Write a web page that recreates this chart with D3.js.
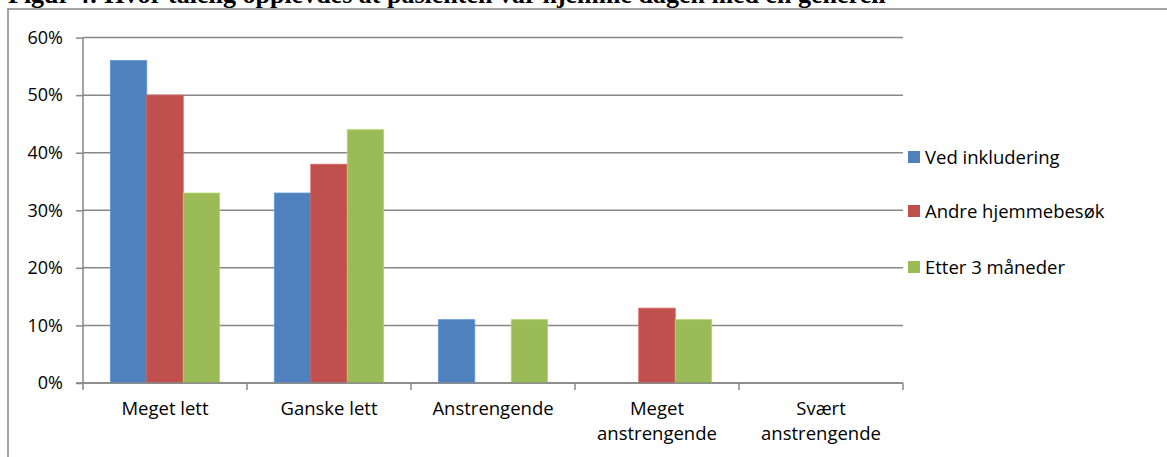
<!DOCTYPE html>
<html>
<head>
<meta charset="utf-8">
<script src="https://cdn.jsdelivr.net/npm/d3@7"></script>
<style>
  body { margin: 0; background: #fff; overflow: hidden; }
  text { font-family: "Open Sans", Lato, sans-serif; fill: #000; }
</style>
</head>
<body>
<script>
'use strict';

// chart data
const categories = ["Meget lett", "Ganske lett", "Anstrengende", "Meget anstrengende", "Svært anstrengende"];
const categoryLines = [["Meget lett"], ["Ganske lett"], ["Anstrengende"], ["Meget", "anstrengende"], ["Svært", "anstrengende"]];
const seriesNames = ["Ved inkludering", "Andre hjemmebesøk", "Etter 3 måneder"];
const vedInkludering = [0.56, 0.33, 0.11, 0, 0];
const andreHjemmebesok = [0.50, 0.38, 0, 0.13, 0];
const etter3Maneder = [0.33, 0.44, 0.11, 0.11, 0];
const yTicks = [0, 0.1, 0.2, 0.3, 0.4, 0.5, 0.6];
const colors = ["#4F81BD", "#C0504D", "#9BBB59"];

const allSeries = [vedInkludering, andreHjemmebesok, etter3Maneder];

const width = 1167, height = 457;
const fontSize = '18.5px';
const svg = d3.select('body').append('svg')
  .attr('width', width)
  .attr('height', height);

// caption from the document, cut off at the top
svg.append('text')
  .attr('x', 8)
  .attr('y', 3)
  .style('font-family', '"Liberation Serif", serif')
  .style('font-weight', 'bold')
  .style('font-size', '26px')
  .text('Figur 4: Hvor tålelig opplevdes at pasienten var hjemme dagen med en generell');

// chart frame
svg.append('path')
  .attr('d', 'M8,' + height + 'V9H' + width)
  .attr('fill', 'none')
  .attr('stroke', '#878787')
  .attr('stroke-width', 1.5);

const plot = { left: 83, right: 903, top: 37.6, bottom: 383 };

const x = d3.scaleBand()
  .domain(categories)
  .range([plot.left, plot.right])
  .paddingInner(1 / 3)
  .paddingOuter(1 / 6);

const xSub = d3.scaleBand()
  .domain(seriesNames)
  .range([0, x.bandwidth()]);

const y = d3.scaleLinear()
  .domain([0, 0.6])
  .range([plot.bottom, plot.top]);

// gridlines
svg.append('g')
  .selectAll('line')
  .data(yTicks)
  .enter()
  .append('line')
    .attr('x1', plot.left)
    .attr('x2', plot.right)
    .attr('y1', d => y(d))
    .attr('y2', d => y(d))
    .attr('stroke', '#878787')
    .attr('stroke-width', 1.5);

// y axis
const yAxis = d3.axisLeft(y)
  .tickValues(yTicks)
  .tickSize(7)
  .tickPadding(13)
  .tickFormat(d3.format('.0%'));

const gy = svg.append('g')
  .attr('transform', 'translate(' + plot.left + ',0)')
  .call(yAxis);
gy.selectAll('line, path').attr('stroke', '#878787').attr('stroke-width', 1.5);
gy.select('.domain').attr('d', 'M0,' + plot.top + 'V' + plot.bottom);
gy.selectAll('text')
  .style('font-size', '18px')
  .style('font-family', '"Open Sans", sans-serif')
  .attr('fill', '#000');

// bars
const groups = svg.append('g')
  .selectAll('g')
  .data(categories)
  .enter()
  .append('g')
    .attr('transform', d => 'translate(' + x(d) + ',0)');

groups.selectAll('rect')
  .data((c, i) => allSeries.map((s, j) => ({ name: seriesNames[j], value: s[i], color: colors[j] })))
  .enter()
  .append('rect')
    .attr('x', d => xSub(d.name))
    .attr('y', d => y(d.value))
    .attr('width', xSub.bandwidth())
    .attr('height', d => y(0) - y(d.value))
    .attr('fill', d => d.color)
    .attr('stroke', d => d3.color(d.color).brighter(0.4))
    .attr('stroke-width', 0.8);

// x axis
const step = x.step();
const xTickPos = d3.range(categories.length + 1).map(i => plot.left + i * step);
const gx = svg.append('g');
gx.append('line')
  .attr('x1', plot.left - 7)
  .attr('x2', plot.right)
  .attr('y1', plot.bottom)
  .attr('y2', plot.bottom)
  .attr('stroke', '#878787')
  .attr('stroke-width', 1.5);
gx.selectAll('.tick')
  .data(xTickPos)
  .enter()
  .append('line')
    .attr('x1', d => d)
    .attr('x2', d => d)
    .attr('y1', plot.bottom)
    .attr('y2', plot.bottom + 7)
    .attr('stroke', '#878787')
    .attr('stroke-width', 1.5);

gx.selectAll('.label')
  .data(categories)
  .enter()
  .append('text')
    .attr('text-anchor', 'middle')
    .attr('x', d => x(d) + x.bandwidth() / 2)
    .attr('y', 415)
    .style('font-size', fontSize)
    .selectAll('tspan')
    .data((d, i) => categoryLines[i])
    .enter()
    .append('tspan')
      .attr('x', function() { return d3.select(this.parentNode).attr('x'); })
      .attr('dy', (d, i) => i === 0 ? 0 : 25)
      .text(d => d);

// legend
const legendY = [157, 211, 267];
const legend = svg.append('g')
  .selectAll('g')
  .data(seriesNames)
  .enter()
  .append('g')
    .attr('transform', (d, i) => 'translate(908,' + legendY[i] + ')');

legend.append('rect')
  .attr('x', 0)
  .attr('y', -6)
  .attr('width', 12)
  .attr('height', 12)
  .attr('fill', (d, i) => colors[i]);

legend.append('text')
  .attr('x', 17)
  .attr('y', 6.5)
  .style('font-size', fontSize)
  .text(d => d);
</script>
</body>
</html>
